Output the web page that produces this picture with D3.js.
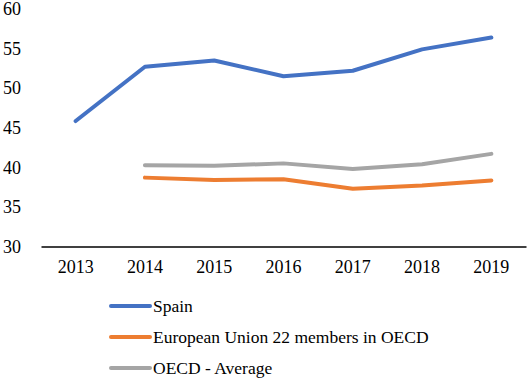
<!DOCTYPE html>
<html>
<head>
<meta charset="utf-8">
<script src="https://cdn.jsdelivr.net/npm/d3@7"></script>
<style>
  body { margin: 0; background: #fff; }
  text { font-family: "Liberation Serif", serif; fill: #000; }
</style>
</head>
<body>
<svg id="chart" width="529" height="381"></svg>
<script>
var years = ['2013', '2014', '2015', '2016', '2017', '2018', '2019']
var spain = [45.85, 52.7, 53.5, 51.5, 52.2, 54.9, 56.4]
var eu22 = [null, 38.7, 38.4, 38.5, 37.3, 37.7, 38.35]
var oecd = [null, 40.25, 40.2, 40.5, 39.8, 40.4, 41.7]
var yTicks = [30, 35, 40, 45, 50, 55, 60]
var names = ['Spain', 'European Union 22 members in OECD', 'OECD - Average']
var colors = ['#4472C4', '#ED7D31', '#A5A5A5']

var svg = d3.select('#chart')

var x = d3.scaleBand().domain(years).range([41, 526])
var y = d3.scaleLinear().domain([30, 60]).range([246.5, 9])

// y labels (no axis line, only text)
svg.append('g').selectAll('text')
  .data(yTicks)
  .enter().append('text')
  .attr('x', 3)
  .attr('y', d => y(d))
  .attr('dy', '0.35em')
  .style('font-size', '18px')
  .text(d => d)

// bottom axis
var xAxis = d3.axisBottom(x).tickSize(0).tickPadding(14)
var gx = svg.append('g')
  .attr('transform', 'translate(0,' + y(30) + ')')
  .call(xAxis)
gx.select('.domain').attr('stroke', '#000').attr('stroke-width', 1.3)
gx.selectAll('text').style('font-size', '18px').attr('font-family', null)

var series = [spain, eu22, oecd]
var line = d3.line()
  .defined(d => d.v != null)
  .x(d => x(d.t) + x.bandwidth() / 2)
  .y(d => y(d.v))

// draw in reverse so Spain sits on top
for (var i = series.length - 1; i >= 0; i--) {
  var pts = years.map((t, j) => ({ t: t, v: series[i][j] }))
  svg.append('path')
    .datum(pts)
    .attr('d', line)
    .attr('fill', 'none')
    .attr('stroke', colors[i])
    .attr('stroke-width', 4)
    .attr('stroke-linejoin', 'round')
    .attr('stroke-linecap', 'round')
}

// legend
var legY = [306, 337, 368]
for (var k = 0; k < names.length; k++) {
  svg.append('line')
    .attr('x1', 111).attr('x2', 150)
    .attr('y1', legY[k]).attr('y2', legY[k])
    .attr('stroke', colors[k])
    .attr('stroke-width', 4)
    .attr('stroke-linecap', 'round')
  svg.append('text')
    .attr('x', 153).attr('y', legY[k])
    .attr('dy', '0.35em')
    .style('font-size', '17.5px')
    .text(names[k])
}
</script>
</body>
</html>
